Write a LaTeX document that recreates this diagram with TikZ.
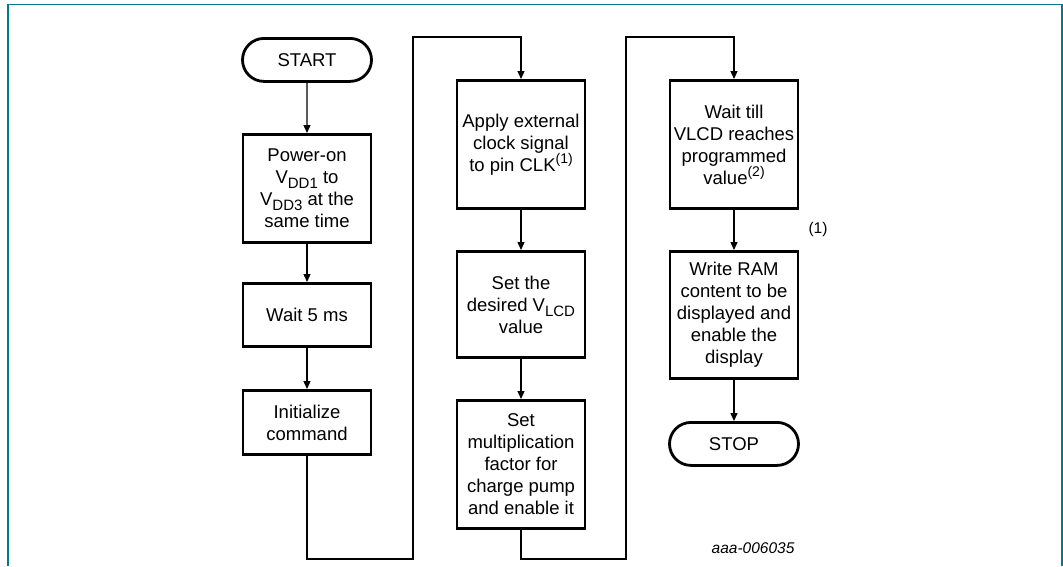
\documentclass[tikz,border=0pt]{standalone}
\usepackage{fontspec}
\setmainfont{Liberation Sans}
\usetikzlibrary{shapes.misc,arrows.meta}
\definecolor{frameteal}{RGB}{0,122,140}
\newcommand\supx[1]{\raisebox{0.42em}{\fontsize{14}{14}\selectfont #1}}
\newcommand\subx[1]{\raisebox{-0.28em}{\fontsize{15}{15}\selectfont #1}}
\tikzset{
  fbox/.style={draw, line width=2.8pt, minimum width=128pt, inner sep=0pt, align=center,
    anchor=north, font=\fontsize{18.5}{22}\selectfont},
  term/.style={draw, rounded rectangle, line width=2.8pt, minimum width=129pt, minimum height=43pt,
    inner sep=0pt, anchor=north, font=\fontsize{18.5}{22}\selectfont},
  conn/.style={line width=1.3pt},
  arr/.style={conn, -{Triangle[length=8pt,width=7pt]}},
}
\begin{document}
\begin{tikzpicture}[x=1pt,y=-1pt]
\useasboundingbox (0,0) rectangle (1063,566);
\draw[frameteal, line width=1.8pt] (8,566) -- (8,4.5) -- (1062,4.5) -- (1062,566);
% column 1
\node[term] (start) at (307,37) {START};
\node[fbox, minimum height=108pt] (power) at (307,133) {Power-on\\V\subx{DD1} to\\V\subx{DD3} at the\\same time};
\node[fbox, minimum height=63pt] (wait5) at (307,282) {Wait 5 ms};
\node[fbox, minimum height=64pt] (init) at (307,389) {Initialize\\command};
% column 2
\node[fbox, minimum height=128pt] (apply) at (521,79) {Apply external\\clock signal\\to pin CLK\supx{(1)}};
\node[fbox, minimum height=106pt] (vlcd) at (521,250) {Set the\\desired V\subx{LCD}\\value};
\node[fbox, minimum height=128pt] (mult) at (521,399) {Set\\multiplication\\factor for\\charge pump\\and enable it};
% column 3
\node[fbox, minimum height=128pt] (waittill) at (734,79) {Wait till\\VLCD reaches\\programmed\\value\supx{(2)}};
\node[fbox, minimum height=127pt] (ram) at (734,250) {Write RAM\\content to be\\displayed and\\enable the\\display};
\node[term] (stop) at (734,421) {STOP};
% notes
\node[font=\fontsize{15.5}{15.5}\selectfont] (note) at (818,229) {(1)};
\node[font=\itshape\fontsize{15.5}{16}\selectfont, anchor=east] (code) at (798,548) {aaa-006035};
% connectors
\coordinate (b1) at (413,559);
\coordinate (t1) at (413,37);
\coordinate (b2) at (626,559);
\coordinate (t2) at (626,37);
\draw[arr] (start) -- (power);
\draw[arr] (power) -- (wait5);
\draw[arr] (wait5) -- (init);
\draw[arr] (init.south) |- (b1) -- (t1) -| (apply.north);
\draw[arr] (apply) -- (vlcd);
\draw[arr] (vlcd) -- (mult);
\draw[arr] (mult.south) |- (b2) -- (t2) -| (waittill.north);
\draw[arr] (waittill) -- (ram);
\draw[arr] (ram) -- (stop);
\end{tikzpicture}
\end{document}
